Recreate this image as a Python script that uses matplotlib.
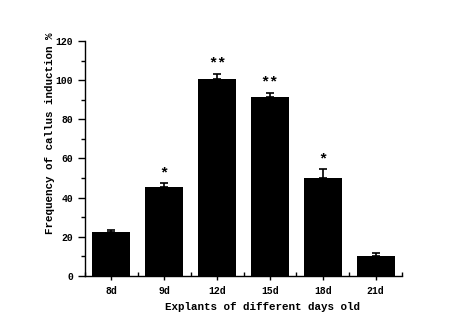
import matplotlib.pyplot as plt
import numpy as np
from matplotlib.ticker import MultipleLocator, FixedLocator

days = ['8d', '9d', '12d', '15d', '18d', '21d']
induction = [22.5, 45.3, 100.4, 91.2, 50.0, 10.2]
err_up = [0.9, 2.0, 3.0, 2.4, 4.5, 1.5]
marks = ['', '*', '**', '**', '*', '']

plt.rcParams['font.family'] = 'Liberation Mono'
plt.rcParams['font.weight'] = 'bold'

fig = plt.figure(figsize=(4.68, 3.32), dpi=100)
ax = fig.add_axes([0.1816, 0.1687, 0.6774, 0.7078])

x = np.arange(len(days))
ax.bar(x, induction, width=0.72, color='black', zorder=2)
ax.errorbar(x, induction, yerr=[np.zeros(len(x)), err_up], fmt='none',
            ecolor='black', elinewidth=1.2, capsize=3, capthick=1.2, zorder=1)

# significance marks above the error caps
for xi, v, e, m in zip(x, induction, err_up, marks):
    if m:
        ax.annotate(m, (xi, v + e), xytext=(0, 2), textcoords='offset points',
                    ha='center', va='bottom', fontsize=11, fontweight='bold')

ax.set_xlim(-0.5, 5.5)
ax.set_ylim(0, 120)
ax.set_xticks(x)
ax.set_xticklabels(days, fontsize=7, fontweight='bold')
ax.xaxis.set_minor_locator(FixedLocator(np.arange(-0.5, 6, 1)))
ax.tick_params(axis='x', which='major', direction='out', length=3, width=1, pad=4)
ax.tick_params(axis='x', which='minor', direction='in', length=3, width=1)

ax.yaxis.set_major_locator(MultipleLocator(20))
ax.yaxis.set_minor_locator(MultipleLocator(10))
ax.tick_params(axis='y', which='major', direction='out', length=5, width=1, labelsize=7)
ax.tick_params(axis='y', which='minor', direction='out', length=3, width=1)

for s in ['top', 'right']:
    ax.spines[s].set_visible(False)
for s in ['left', 'bottom']:
    ax.spines[s].set_linewidth(1)

ax.set_xlabel('Explants of different days old', fontsize=7.8, fontweight='bold')
ax.set_ylabel('Frequency of callus induction %', fontsize=7.8, fontweight='bold')
ax.xaxis.set_label_coords(0.56, -0.11)
ax.yaxis.set_label_coords(-0.095, 0.606)

fig.savefig('out.png', dpi=100)
